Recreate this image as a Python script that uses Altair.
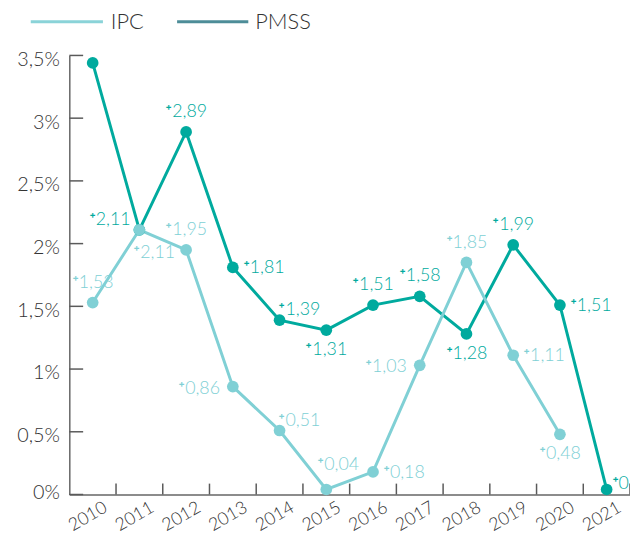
import altair as alt
import pandas as pd

years = ["2010", "2011", "2012", "2013", "2014", "2015", "2016", "2017", "2018", "2019", "2020", "2021"]
series = ["IPC", "PMSS"]

pmss = [3.44, 2.11, 2.89, 1.81, 1.39, 1.31, 1.51, 1.58, 1.28, 1.99, 1.51, 0.04]
pmss_labels = ["", "+2,11", "+2,89", "+1,81", "+1,39", "+1,31", "+1,51", "+1,58", "+1,28", "+1,99", "+1,51", "+0"]
pmss_label_pos = ["none", "upleft", "above", "right", "upright", "below", "above", "above", "below", "above", "right", "edge"]

ipc = [1.53, 2.11, 1.95, 0.86, 0.51, 0.04, 0.18, 1.03, 1.85, 1.11, 0.48, None]
ipc_labels = ["+1,53", "+2,11", "+1,95", "+0,86", "+0,51", "+0,04", "+0,18", "+1,03", "+1,85", "+1,11", "+0,48", ""]
ipc_label_pos = ["above", "downright", "above", "left", "upright", "aboveright", "right", "left", "above", "right", "below", "none"]

y_ticks = [0, 0.5, 1, 1.5, 2, 2.5, 3, 3.5]

rows = []
for i, yr in enumerate(years):
    rows.append(dict(year=yr, series="PMSS", value=pmss[i], label=pmss_labels[i], pos=pmss_label_pos[i]))
    if ipc[i] is not None:
        rows.append(dict(year=yr, series="IPC", value=ipc[i], label=ipc_labels[i], pos=ipc_label_pos[i]))
df = pd.DataFrame(rows)
df["label"] = df["label"].str.replace("+", "\u1429", regex=False)

W, H = 567, 444
FONT = "Lato"
FW = 300
C_IPC = "#80d0d5"
C_PMSS = "#00aa9e"

xscale = alt.Scale(type="band", domain=years, paddingInner=0, paddingOuter=0)
yscale = alt.Scale(domain=[0, 3.5], nice=False, zero=True)
cscale = alt.Scale(domain=series, range=[C_IPC, C_PMSS])

xaxis = alt.Axis(
    ticks=False, tickSize=0, domain=True, domainColor="#666666", domainWidth=1.5,
    labelAngle=330, labelAlign="right", labelBaseline="top", labelPadding=4, labelOffset=9,
    labelFont=FONT, labelFontSize=18, labelFontWeight=FW, labelColor="#333333",
    labelOverlap=False, title=None, grid=False,
)
yaxis = alt.Axis(
    values=y_ticks, ticks=False, tickSize=0, domain=True, domainColor="#666666", domainWidth=1.5,
    labelExpr="replace(format(datum.value, '~g'), '.', ',') + '%'",
    labelFont=FONT, labelFontSize=20, labelFontWeight=FW, labelColor="#333333", labelPadding=10,
    labelBaseline="middle", labelFlush=False,
    labelOffset={"condition": {"test": "datum.value === 0", "value": -2}, "value": 4},
    title=None, grid=False,
)

X = alt.X("year:O", scale=xscale, axis=xaxis)
Y = alt.Y("value:Q", scale=yscale, axis=yaxis)
COL = alt.Color("series:N", scale=cscale, legend=None)

# axis tick decorations (inward ticks)
ytick_layer = alt.Chart(pd.DataFrame({"value": y_ticks})).mark_rule(color="#5a5a5a", strokeWidth=1.5).encode(
    y=Y, x=alt.value(0), x2=alt.value(14)
)
xtick_layer = alt.Chart(pd.DataFrame({"year": years})).mark_rule(color="#5a5a5a", strokeWidth=1.5).encode(
    x=alt.X("year:O", scale=xscale, axis=xaxis, bandPosition=1), y=alt.value(H - 11), y2=alt.value(H)
)

base = alt.Chart(df)
pmss_line = base.transform_filter(alt.datum.series == "PMSS").mark_line(strokeWidth=3).encode(x=X, y=Y, color=COL)
pmss_pts = base.transform_filter(alt.datum.series == "PMSS").mark_circle(size=140, opacity=1).encode(x=X, y=Y, color=COL)
ipc_line = base.transform_filter(alt.datum.series == "IPC").mark_line(strokeWidth=3).encode(x=X, y=Y, color=COL)
ipc_pts = base.transform_filter(alt.datum.series == "IPC").mark_circle(size=140, opacity=1).encode(x=X, y=Y, color=COL)

offsets = {
    "above": dict(dx=0, dy=-20, align="center"),
    "below": dict(dx=0, dy=20, align="center"),
    "right": dict(dx=10, dy=1, align="left"),
    "left": dict(dx=-13, dy=2, align="right"),
    "upright": dict(dx=20, dy=-10, align="center"),
    "upleft": dict(dx=-30, dy=-10, align="center"),
    "downright": dict(dx=15, dy=24, align="center"),
    "aboveright": dict(dx=12, dy=-25, align="center"),
    "edge": dict(dx=5, dy=-5, align="left"),
}
text_layers = []
for p, o in offsets.items():
    text_layers.append(
        base.transform_filter(alt.datum.pos == p).mark_text(
            baseline="middle", font=FONT, fontSize=18, fontWeight=FW, **o
        ).encode(x=X, y=Y, text="label:N", color=COL)
    )

one = pd.DataFrame({"k": [0]})
LEG_Y = 19 - 53
leg = [
    alt.Chart(one).mark_rule(color="#8ad3d8", strokeWidth=3).encode(x=alt.value(31 - 70), x2=alt.value(104 - 70), y=alt.value(LEG_Y)),
    alt.Chart(one).mark_text(align="left", baseline="middle", font=FONT, fontSize=22, fontWeight=FW, color="#333333").encode(
        x=alt.value(112 - 70), y=alt.value(LEG_Y), text=alt.value(series[0])),
    alt.Chart(one).mark_rule(color="#4d8d98", strokeWidth=3).encode(x=alt.value(179 - 70), x2=alt.value(251 - 70), y=alt.value(LEG_Y)),
    alt.Chart(one).mark_text(align="left", baseline="middle", font=FONT, fontSize=22, fontWeight=FW, color="#333333").encode(
        x=alt.value(258 - 70), y=alt.value(LEG_Y), text=alt.value(series[1])),
]

chart = alt.layer(
    ytick_layer, xtick_layer, pmss_line, ipc_line, pmss_pts, ipc_pts, *text_layers, *leg
).properties(
    width=W, height=H, autosize="none",
    padding={"left": 62, "top": 45, "right": 0, "bottom": 40},
    background="white",
).configure_view(stroke=None)

chart.save("out.html", embed_options={"renderer": "svg", "actions": False})
